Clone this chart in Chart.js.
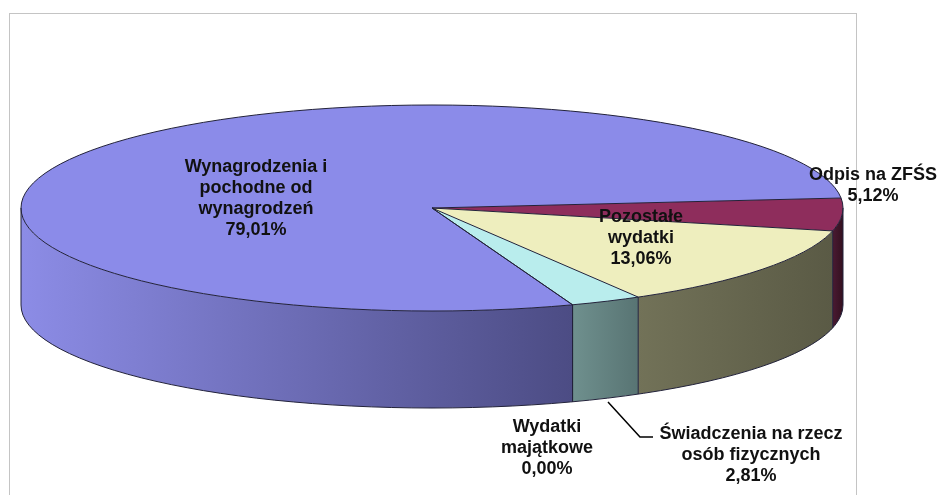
<!DOCTYPE html>
<html><head><meta charset="utf-8">
<script src="https://cdn.jsdelivr.net/npm/chart.js@4.4.0/dist/chart.umd.min.js"></script>
<style>html,body{margin:0;padding:0;background:#fff;overflow:hidden}canvas{display:block}</style>
</head><body>
<canvas id="c" width="941" height="495"></canvas>
<script>
// ---- data ----
const categories = ['Wynagrodzenia i pochodne od wynagrodzeń', 'Odpis na ZFŚS', 'Pozostałe wydatki', 'Świadczenia na rzecz osób fizycznych', 'Wydatki majątkowe'];
const labelLines = [['Wynagrodzenia i', 'pochodne od', 'wynagrodzeń'], ['Odpis na ZFŚS'], ['Pozostałe', 'wydatki'], ['Świadczenia na rzecz', 'osób fizycznych'], ['Wydatki', 'majątkowe']];
const values = [79.01, 5.12, 13.06, 2.81, 0.00];

// ---- styles / layout ----
const topColors = ['#8b8be9', '#8e2d5c', '#eeeebe', '#b9eded', '#ccccff'];
const sideColors = [['#8c8ce6', '#4c4c84'], ['#4a1a32', '#33101f'], ['#727258', '#5a5a45'], ['#6f908e', '#587473'], ['#8888aa', '#666688']];
const G = { cx: 432, cy: 208, rx: 411, ry: 103, depth: 97 };
const labelAnchors = [[256, 167], [873, 175], [641, 217], [751, 434], [547, 427]];
const LH = 21;
const FONT = 'bold 18px "Liberation Sans", Arial, Helvetica, sans-serif';

function drawSide(ctx, s, e, i) {
  const xl = G.cx + G.rx * Math.cos(e), xr = G.cx + G.rx * Math.cos(s);
  ctx.beginPath();
  ctx.ellipse(G.cx, G.cy, G.rx, G.ry, 0, s, e, false);
  ctx.lineTo(G.cx + G.rx * Math.cos(e), G.cy + G.ry * Math.sin(e) + G.depth);
  ctx.ellipse(G.cx, G.cy + G.depth, G.rx, G.ry, 0, e, s, true);
  ctx.closePath();
  const g = ctx.createLinearGradient(Math.min(xl, xr), 0, Math.max(xl, xr) + 0.01, 0);
  g.addColorStop(0, sideColors[i][0]);
  g.addColorStop(1, sideColors[i][1]);
  ctx.fillStyle = g;
  ctx.fill();
}

function visibleParts(a1, a2) {
  const parts = [];
  for (let k = -3; k <= 3; k++) {
    const s = Math.max(a1, 2 * Math.PI * k), e = Math.min(a2, 2 * Math.PI * k + Math.PI);
    if (e > s) parts.push([s, e]);
  }
  return parts;
}

const pie3d = {
  id: 'pie3d',
  beforeDraw(chart) {
    const ctx = chart.ctx;
    ctx.save();
    ctx.fillStyle = '#fff';
    ctx.fillRect(0, 0, chart.width, chart.height);
    ctx.strokeStyle = '#c4c4c4';
    ctx.lineWidth = 1;
    ctx.strokeRect(9.5, 13.5, 847, 500);
    ctx.restore();
  },
  beforeDatasetsDraw(chart) {
    const ctx = chart.ctx;
    const meta = chart.getDatasetMeta(0);
    meta.data.forEach((arc, i) => {
      if (arc.endAngle - arc.startAngle <= 1e-6) return;
      visibleParts(arc.startAngle, arc.endAngle).forEach(([s, e]) => drawSide(ctx, s, e, i));
    });
    const a = meta.data[0];
    ctx.save();
    ctx.translate(G.cx, G.cy);
    ctx.scale(G.rx / a.outerRadius, G.ry / a.outerRadius);
    ctx.translate(-a.x, -a.y);
  },
  afterDatasetsDraw(chart) {
    const ctx = chart.ctx;
    ctx.restore();
    const meta = chart.getDatasetMeta(0);
    ctx.save();
    ctx.strokeStyle = '#22223a';
    ctx.lineWidth = 1;
    // top outline
    ctx.beginPath();
    ctx.ellipse(G.cx, G.cy, G.rx, G.ry, 0, 0, 2 * Math.PI);
    ctx.stroke();
    // bottom front outline
    ctx.beginPath();
    ctx.ellipse(G.cx, G.cy + G.depth, G.rx, G.ry, 0, 0, Math.PI);
    ctx.stroke();
    // silhouette edges
    ctx.beginPath();
    ctx.moveTo(G.cx + G.rx, G.cy); ctx.lineTo(G.cx + G.rx, G.cy + G.depth);
    ctx.moveTo(G.cx - G.rx, G.cy); ctx.lineTo(G.cx - G.rx, G.cy + G.depth);
    ctx.stroke();
    // slice boundaries
    meta.data.forEach((arc) => {
      const t = arc.startAngle;
      const px = G.cx + G.rx * Math.cos(t), py = G.cy + G.ry * Math.sin(t);
      ctx.beginPath();
      ctx.moveTo(G.cx, G.cy); ctx.lineTo(px, py);
      if (Math.sin(t) > 0) { ctx.lineTo(px, py + G.depth); }
      ctx.stroke();
    });
    ctx.restore();
  },
  afterDraw(chart) {
    const ctx = chart.ctx;
    ctx.save();
    // leader line for Świadczenia
    ctx.strokeStyle = '#000';
    ctx.lineWidth = 1.5;
    ctx.beginPath();
    ctx.moveTo(608, 402); ctx.lineTo(640, 437); ctx.lineTo(653, 437);
    ctx.stroke();
    ctx.font = FONT;
    ctx.fillStyle = '#111';
    ctx.textAlign = 'center';
    ctx.textBaseline = 'middle';
    labelLines.forEach((lines, i) => {
      const [x, y] = labelAnchors[i];
      const all = lines.concat([values[i].toFixed(2).replace('.', ',') + '%']);
      all.forEach((t, j) => ctx.fillText(t, x, y + j * LH));
    });
    ctx.restore();
  }
};

new Chart(document.getElementById('c'), {
  type: 'pie',
  data: {
    labels: categories,
    datasets: [{ data: values, backgroundColor: topColors, borderWidth: 0, clip: false }]
  },
  options: {
    responsive: false,
    animation: false,
    rotation: 160,
    events: [],
    plugins: { legend: { display: false }, tooltip: { enabled: false } }
  },
  plugins: [pie3d]
});
</script>
</body></html>
